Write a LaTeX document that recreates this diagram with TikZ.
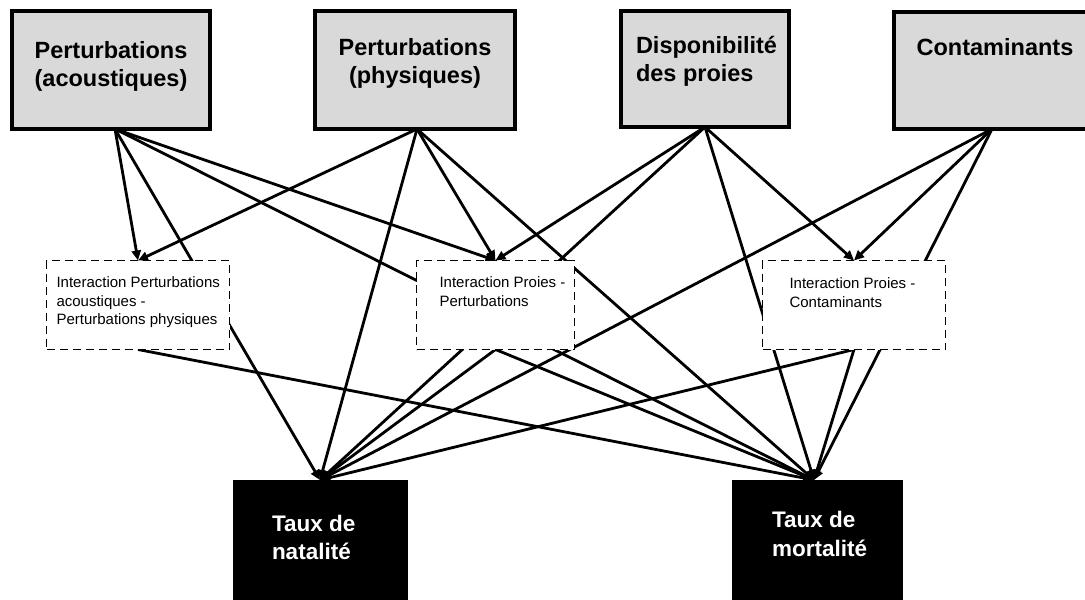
\documentclass[tikz,border=0pt]{standalone}
\usepackage{fontspec}
\setmainfont{Liberation Sans}
\usetikzlibrary{arrows.meta}
\pgfdeclarelayer{bg}
\pgfsetlayers{bg,main}
\definecolor{boxgray}{HTML}{D9D9D9}
\tikzset{
  topbox/.style={draw=black, line width=4pt, fill=boxgray, inner sep=0pt, outer sep=0pt,
    font=\bfseries\fontsize{23.5}{28}\selectfont},
  midbox/.style={draw=black, line width=1.4pt, dash pattern=on 8pt off 5pt, fill=white,
    inner sep=0pt, outer sep=0pt, font=\fontsize{15}{18.5}\selectfont},
  botbox/.style={draw=black, fill=black, text=white, inner sep=0pt, outer sep=0pt,
    font=\bfseries\fontsize{22.5}{28.5}\selectfont},
  link/.style={line width=2.8pt, -{Triangle[length=10pt,width=9pt]}},
}
\begin{document}
\begin{tikzpicture}[x=1pt,y=-1pt]
\useasboundingbox (0,0) rectangle (1085,600);

% top boxes
\node[topbox] (A) at (111,70) {\parbox[t][118pt][t]{198pt}{\centering\rule{0pt}{47.5pt}Perturbations\\(acoustiques)}};
\node[topbox] (B) at (415,70) {\parbox[t][118pt][t]{200pt}{\centering\rule{0pt}{44.3pt}Perturbations\\(physiques)}};
\node[topbox] (C) at (705,69) {\parbox[t][116pt][t]{168pt}{\raggedright\leftskip=15pt\rule{0pt}{42.7pt}Disponibilité\\des proies}};
\node[topbox] (D) at (995,70.5) {\parbox[t][117pt][t]{202pt}{\centering\rule{0pt}{43.3pt}Contaminants}};

% interaction boxes
\node[midbox] (M1) at (138,305) {\parbox[t][89pt][t]{183pt}{\raggedright\leftskip=10pt\rule{0pt}{27.3pt}Interaction Perturbations\\acoustiques -\\Perturbations physiques}};
\node[midbox] (M2) at (495.5,305) {\parbox[t][89pt][t]{158pt}{\raggedright\leftskip=23pt\rule{0pt}{27.3pt}Interaction Proies -\\Perturbations}};
\node[midbox] (M3) at (854,305) {\parbox[t][89pt][t]{183pt}{\raggedright\leftskip=27pt\rule{0pt}{28pt}Interaction Proies -\\Contaminants}};

% outcome boxes
\node[botbox] (N) at (320,550) {\parbox[t][140pt][t]{174pt}{\raggedright\leftskip=39pt\rule{0pt}{51pt}Taux de\\natalité}};
\node[botbox] (Mo) at (817,550) {\parbox[t][140pt][t]{170pt}{\raggedright\leftskip=40pt\rule{0pt}{47.5pt}Taux de\\mortalité}};

\begin{pgfonlayer}{bg}
  % from A
  \draw[link] ([xshift=4pt]A.south) -- (M1.north);
  \draw[link] ([xshift=4pt]A.south) -- (N.north);
  \draw[link] ([xshift=4pt]A.south) -- (M2.north);
  \draw[link] ([xshift=4pt]A.south) -- ([xshift=-3pt]Mo.north);
  % from B
  \draw[link] ([xshift=2pt]B.south) -- (M1.north);
  \draw[link] ([xshift=2pt]B.south) -- (N.north);
  \draw[link] ([xshift=2pt]B.south) -- (M2.north);
  \draw[link] ([xshift=2pt]B.south) -- ([xshift=-3pt]Mo.north);
  % from C
  \draw[link] (C.south) -- (M2.north);
  \draw[link] (C.south) -- (N.north);
  \draw[link] (C.south) -- ([xshift=-3pt]Mo.north);
  \draw[link] (C.south) -- (M3.north);
  % from D
  \draw[link] ([xshift=-3pt]D.south) -- (N.north);
  \draw[link] ([xshift=-3pt]D.south) -- (M3.north);
  \draw[link] ([xshift=-3pt]D.south) -- ([xshift=-3pt]Mo.north);
  % from interaction boxes
  \draw[link] (M1.south) -- ([xshift=-3pt]Mo.north);
  \draw[link] (M2.south) -- (N.north);
  \draw[link] (M2.south) -- ([xshift=-3pt]Mo.north);
  \draw[link] (M3.south) -- (N.north);
  \draw[link] (M3.south) -- ([xshift=-3pt]Mo.north);
\end{pgfonlayer}
\end{tikzpicture}
\end{document}
